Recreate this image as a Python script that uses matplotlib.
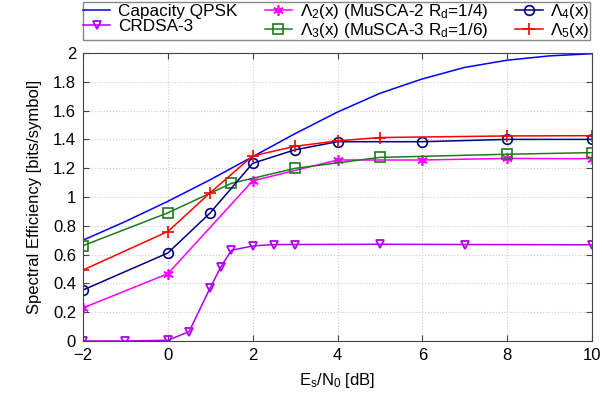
import matplotlib
matplotlib.use("Agg")
import matplotlib.pyplot as plt

plt.rcParams['font.family'] = ['Liberation Sans', 'DejaVu Sans']
plt.rcParams['font.size'] = 12
plt.rcParams['mathtext.fontset'] = 'custom'
plt.rcParams['mathtext.rm'] = 'Liberation Sans'
plt.rcParams['mathtext.it'] = 'Liberation Sans'

# Data
cap_x = [-2, -1, 0, 1, 2, 3, 4, 5, 6, 7, 8, 9, 10]
cap_y = [0.70, 0.83, 0.97, 1.12, 1.28, 1.44, 1.59, 1.72, 1.82, 1.90, 1.95, 1.98, 1.995]

crdsa_x = [-2, -1, 0, 0.5, 1, 1.25, 1.5, 2, 2.5, 3, 5, 7, 10]
crdsa_y = [0.0, 0.0, 0.005, 0.065, 0.37, 0.515, 0.63, 0.66, 0.67, 0.67, 0.672, 0.67, 0.668]

l2_x = [-2, 0, 2, 4, 6, 8, 10]
l2_y = [0.23, 0.467, 1.112, 1.257, 1.257, 1.268, 1.266]

l3_x = [-2, 0, 1.5, 3, 5, 8, 10]
l3_y = [0.662, 0.89, 1.095, 1.199, 1.275, 1.297, 1.308]

l4_x = [-2, 0, 1, 2, 3, 4, 6, 8, 10]
l4_y = [0.354, 0.611, 0.89, 1.234, 1.328, 1.384, 1.384, 1.40, 1.40]

l5_x = [-2, 0, 1, 2, 3, 4, 5, 8, 10]
l5_y = [0.493, 0.76, 1.03, 1.285, 1.352, 1.39, 1.413, 1.424, 1.426]

fig = plt.figure(figsize=(6.02, 3.95), dpi=100)
ax = fig.add_axes([83/602, 1 - 341/395, (592 - 83)/602, (341 - 53)/395])

ms = 6.5
lw = 1.1
ax.plot(cap_x, cap_y, color='#0000FF', lw=lw, label='Capacity QPSK')
ax.plot(crdsa_x, crdsa_y, color='#B000F0', lw=lw, marker='v', ms=ms - 0.5,
        mfc='none', mew=1.3, label='CRDSA-3')
ax.plot(l2_x, l2_y, color='#FF00FF', lw=lw, marker=(6, 2, 0), ms=ms + 1,
        mew=1.2, label=r'$\Lambda_2$(x) (MuSCA-2 R$_\mathrm{d}$=1/4)')
ax.plot(l3_x, l3_y, color='#1E7A1E', lw=lw, marker='s', ms=ms, mfc='none',
        mew=1.2, label=r'$\Lambda_3$(x) (MuSCA-3 R$_\mathrm{d}$=1/6)')
ax.plot(l4_x, l4_y, color='#000080', lw=lw, marker='o', ms=ms + 0.5, mfc='none',
        mew=1.2, label=r'$\Lambda_4$(x)')
ax.plot(l5_x, l5_y, color='#FF0000', lw=lw, marker='+', ms=ms + 2, mew=1.2,
        label=r'$\Lambda_5$(x)')

ax.set_xlim(-2, 10)
ax.set_ylim(0, 2)
ax.set_xticks(range(-2, 11, 2))
ax.set_yticks([0, 0.2, 0.4, 0.6, 0.8, 1, 1.2, 1.4, 1.6, 1.8, 2])
ax.set_yticklabels(['0', '0.2', '0.4', '0.6', '0.8', '1', '1.2', '1.4', '1.6', '1.8', '2'])
ax.set_xticklabels(['\u22122', '0', '2', '4', '6', '8', '10'])
ax.tick_params(direction='in', top=True, right=True, length=4, color='#444444', pad=5)
ax.grid(True, color='#cccccc', linestyle=':', linewidth=0.8)
for s in ax.spines.values():
    s.set_color('#444444')

ax.set_xlabel(r'E$_\mathrm{s}$/N$_\mathrm{0}$ [dB]', labelpad=6)
ax.set_ylabel('Spectral Efficiency [bits/symbol]', labelpad=8)

fig.legend(loc='lower left', ncol=3, mode='expand',
           bbox_to_anchor=(83/602, 1 - 40/395, (590 - 83)/602, 0.1),
           borderaxespad=0, fancybox=False, edgecolor='#888888', framealpha=1,
           handlelength=1.6, handletextpad=0.45, columnspacing=0.8,
           labelspacing=0.0, borderpad=0.0, fontsize=12.3)

fig.savefig('out.png', dpi=100)
